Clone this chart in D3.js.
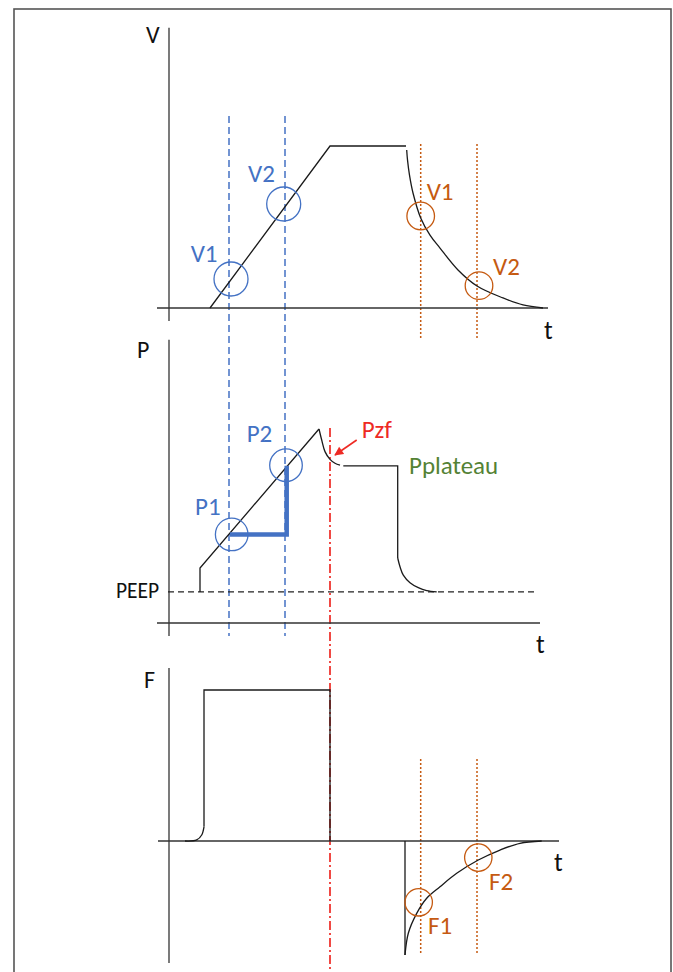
<!DOCTYPE html>
<html>
<head>
<meta charset="utf-8">
<script src="https://cdn.jsdelivr.net/npm/d3@7"></script>
<style>
  body { margin: 0; background: #fff; }
  svg { display: block; font-family: Calibri, Carlito, Lato, sans-serif; }
  .axis-line { stroke: #333; stroke-width: 1.3; fill: none; }
  .trace { stroke: #1a1a1a; stroke-width: 1.3; fill: none; }
  .lbl { font-size: 25px; }
</style>
</head>
<body>
<div id="chart"></div>
<script>
// Volume / pressure / flow waveforms of a volume-controlled breath, with the
// inspiratory (blue) and expiratory (orange) sampling instants marked.

// time in arbitrary units, shared by the three panels
const volRamp = [[0.41, 0], [1.61, 1], [2.37, 1]];
const volDecay = [[2.377, 0.975], [2.385, 0.914], [2.405, 0.82], [2.44, 0.71], [2.517, 0.556],
  [2.61, 0.45], [2.71, 0.37], [2.89, 0.235], [3.08, 0.136], [3.34, 0.062], [3.54, 0.019], [3.74, 0]];

const presRamp = [[0.31, 4.8], [0.31, 8.5], [1.50, 30]];
const presDrop = [[1.50, 30], [1.527, 28.3], [1.56, 26.5], [1.61, 25.3], [1.66, 24.7], [1.71, 24.4]];
const presPlateau = [[1.743, 24.3], [2.287, 24.3], [2.287, 10.05]];
const presRelease = [[2.287, 10.05], [2.31, 8.7], [2.343, 7.4], [2.41, 6.23], [2.493, 5.46], [2.577, 5.0], [2.677, 4.8]];
const PEEP = 4.8;
const peepSpan = [-0.01, 3.68];

const flowOnset = [[0.16, 0], [0.277, 0.007], [0.327, 0.04], [0.35, 0.094]];
const flowSquare = [[0.35, 0.094], [0.35, 1], [1.61, 1], [1.61, 0]];
const flowExpStep = [[2.36, 0], [2.36, -0.755]];
const flowExp = [[2.36, -0.755], [2.393, -0.611], [2.477, -0.479], [2.577, -0.379], [2.71, -0.303],
  [2.877, -0.214], [3.093, -0.126], [3.31, -0.06], [3.51, -0.015], [3.727, 0]];

// sampling instants
const inspTimes = [0.60, 1.16];
const expTimes = [2.517, 3.08];
const endInspTime = 1.61;

// circled sample points
const inspVolPts = [[0.62, 0.179], [1.147, 0.642]];
const inspVolNames = ["V1", "V2"];
const inspPresPts = [[0.627, 13.7], [1.17, 24.4]];
const inspPresNames = ["P1", "P2"];
const expVolPts = [[2.517, 0.568], [3.10, 0.138]];
const expVolNames = ["V1", "V2"];
const expFlowPts = [[2.497, -0.406], [3.093, -0.11]];
const expFlowNames = ["F1", "F2"];
const deltaP = [[0.61, 13.7], [1.177, 13.7], [1.177, 24.3]];

// axis extents (data units)
const vAxisT = [-0.12, 3.79], vAxisY = [-0.08, 1.73];
const pAxisT = [-0.12, 3.71], pAxisY = [-2.0, 43.8];
const fAxisT = [-0.11, 3.9], fAxisY = [-0.808, 1.146];

const W = 673, H = 972;
const C = { blue: "#4472C4", orange: "#C55A11", red: "#EE2A24", green: "#548235" };

const x = d3.scaleLinear([0, 3.9], [169, 559]);
const yV = d3.scaleLinear([0, 1], [308, 146]);
const yP = d3.scaleLinear([0, 30], [623, 429]);
const yF = d3.scaleLinear([0, 1], [841, 690]);

const svg = d3.select("#chart").append("svg").attr("width", W).attr("height", H);
const defs = svg.append("defs");
defs.append("marker").attr("id", "arrow").attr("viewBox", "0 0 10 10")
  .attr("refX", 9).attr("refY", 5).attr("markerWidth", 10).attr("markerHeight", 9)
  .attr("markerUnits", "userSpaceOnUse").attr("orient", "auto")
  .append("path").attr("d", "M0,0L10,5L0,10Z").attr("fill", C.red);

// frame
svg.append("rect").attr("x", 14).attr("y", 9).attr("width", 657).attr("height", 990)
  .attr("fill", "none").attr("stroke", "#555").attr("stroke-width", 1.6);

const lineOf = (y, curve) => d3.line().x((d) => x(d[0])).y((d) => y(d[1])).curve(curve || d3.curveLinear);
const smooth = d3.curveCatmullRom.alpha(0.5);

function axes(y, tSpan, ySpan) {
  svg.append("line").attr("class", "axis-line")
    .attr("x1", x(tSpan[0])).attr("x2", x(tSpan[1])).attr("y1", y(0)).attr("y2", y(0));
  svg.append("line").attr("class", "axis-line")
    .attr("x1", x(0)).attr("x2", x(0)).attr("y1", y(ySpan[0])).attr("y2", y(ySpan[1]));
}

function vline(t, y0, y1, color, dash, w) {
  svg.append("line").attr("x1", x(t)).attr("x2", x(t)).attr("y1", y0).attr("y2", y1)
    .attr("stroke", color).attr("stroke-width", w || 1.5).attr("stroke-dasharray", dash);
}

function circles(pts, y, r, color) {
  svg.append("g").selectAll("circle").data(pts).join("circle")
    .attr("cx", (d) => x(d[0])).attr("cy", (d) => y(d[1])).attr("r", r)
    .attr("fill", "none").attr("stroke", color).attr("stroke-width", 1.3);
}

function labels(pts, names, y, offs, color) {
  svg.append("g").selectAll("text").data(pts).join("text").attr("class", "lbl")
    .attr("x", (d, i) => x(d[0]) + offs[i][0]).attr("y", (d, i) => y(d[1]) + offs[i][1])
    .attr("fill", color).text((d, i) => names[i]);
}

function axisLetter(txt, px, py, size) {
  svg.append("text").attr("x", px).attr("y", py).attr("font-size", size).attr("fill", "#111").text(txt);
}

// ---- guide lines (behind the traces)
inspTimes.forEach((t) => vline(t, yV(1.185), yP(-2.0), C.blue, "7,4"));
expTimes.forEach((t) => {
  vline(t, yV(1.012), yV(-0.185), C.orange, "2,2");
  vline(t, yF(0.543), yF(-0.755), C.orange, "2,2");
});
vline(endInspTime, yP(30.15), H, C.red, "9,3,2,3", 1.7);

// ---- V panel
axes(yV, vAxisT, vAxisY);
svg.append("path").attr("class", "trace").attr("d", lineOf(yV)(volRamp));
svg.append("path").attr("class", "trace").attr("d", lineOf(yV, smooth)(volDecay));
circles(inspVolPts, yV, 17, C.blue);
circles(expVolPts, yV, 13.8, C.orange);
labels(inspVolPts, inspVolNames, yV, [[-40.3, -17], [-35.7, -22]], C.blue);
labels(expVolPts, expVolNames, yV, [[6, -16], [14, -10.7]], C.orange);
axisLetter("V", 146, 43, 24);
axisLetter("t", 544, 339, 26);

// ---- P panel
axes(yP, pAxisT, pAxisY);
svg.append("line").attr("x1", x(peepSpan[0])).attr("x2", x(peepSpan[1]))
  .attr("y1", yP(PEEP)).attr("y2", yP(PEEP))
  .attr("stroke", "#222").attr("stroke-width", 1.2).attr("stroke-dasharray", "6,4");
svg.append("path").attr("class", "trace").attr("d", lineOf(yP)(presRamp));
svg.append("path").attr("class", "trace").attr("d", lineOf(yP, smooth)(presDrop));
svg.append("path").attr("class", "trace").attr("d", lineOf(yP)(presPlateau));
svg.append("path").attr("class", "trace").attr("d", lineOf(yP, smooth)(presRelease));
svg.append("path").attr("d", lineOf(yP)(deltaP)).attr("fill", "none")
  .attr("stroke", C.blue).attr("stroke-width", 4.5).attr("stroke-linejoin", "miter");
circles(inspPresPts, yP, 16.3, C.blue);
labels(inspPresPts, inspPresNames, yP, [[-36.7, -19.3], [-39.3, -23]], C.blue);

svg.append("line").attr("x1", x(1.877)).attr("y1", yP(28.3)).attr("x2", x(1.66)).attr("y2", yP(25.98))
  .attr("stroke", C.red).attr("stroke-width", 1.6).attr("marker-end", "url(#arrow)");
svg.append("text").attr("class", "lbl").attr("x", x(1.927)).attr("y", yP(28.6))
  .attr("fill", C.red).text("Pzf");
svg.append("text").attr("class", "lbl").attr("x", x(2.40)).attr("y", yP(23.0))
  .attr("fill", C.green).text("Pplateau");
svg.append("text").attr("x", 116).attr("y", yP(PEEP) + 6).attr("font-size", 21.5)
  .attr("fill", "#111").text("PEEP");
axisLetter("P", 137, 358, 24);
axisLetter("t", 536, 653, 26);

// ---- F panel
axes(yF, fAxisT, fAxisY);
svg.append("path").attr("class", "trace").attr("d", lineOf(yF, smooth)(flowOnset));
svg.append("path").attr("class", "trace").attr("d", lineOf(yF)(flowSquare));
svg.append("path").attr("class", "trace").attr("d", lineOf(yF)(flowExpStep));
svg.append("path").attr("class", "trace").attr("d", lineOf(yF, smooth)(flowExp));
circles(expFlowPts, yF, 13.7, C.orange);
labels(expFlowPts, expFlowNames, yF, [[9.3, 31.7], [10.7, 32.3]], C.orange);
axisLetter("F", 144, 688, 24);
axisLetter("t", 554, 871, 26);
</script>
</body>
</html>
